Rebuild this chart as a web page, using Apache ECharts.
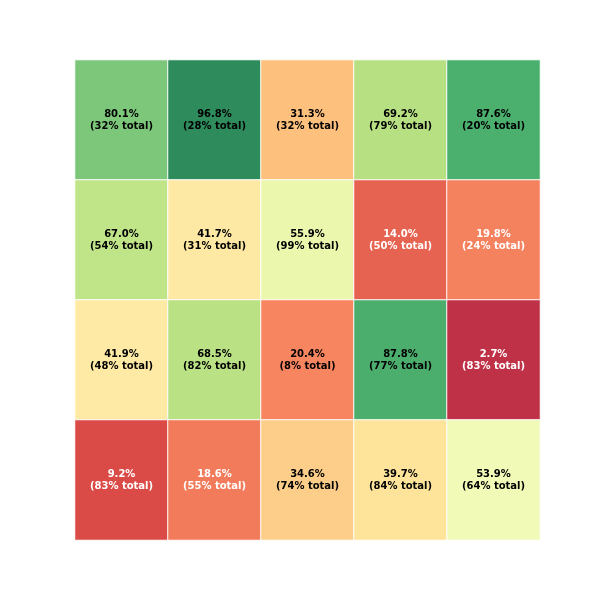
<!DOCTYPE html>
<html><head><meta charset="utf-8">
<script src="https://cdn.jsdelivr.net/npm/echarts@6/dist/echarts.min.js"></script>
<style>html,body{margin:0;padding:0;background:#fff}#c{width:600px;height:600px}</style>
</head><body><div id="c"></div>
<script>
const cols = ['c0','c1','c2','c3','c4'];
const rows = ['r0','r1','r2','r3'];
const pctValues = [
  [80.1, 96.8, 31.3, 69.2, 87.6],
  [67.0, 41.7, 55.9, 14.0, 19.8],
  [41.9, 68.5, 20.4, 87.8, 2.7],
  [9.2, 18.6, 34.6, 39.7, 53.9]
];
const totalShares = [
  [32, 28, 32, 79, 20],
  [54, 31, 99, 50, 24],
  [48, 82, 8, 77, 83],
  [83, 55, 74, 84, 64]
];
const stops = [[165,0,38],[215,48,39],[244,109,67],[253,174,97],[254,224,139],[255,255,191],[217,239,139],[166,217,106],[102,189,99],[26,152,80],[0,104,55]];
function rdylgn(t){
  t = Math.max(0, Math.min(1, t));
  const p = t*10, i = Math.min(9, Math.floor(p)), f = p - i;
  const a = stops[i], b = stops[i+1];
  return a.map((v,k)=>Math.round(v + (b[k]-v)*f));
}
const data = [];
rows.forEach((r, ri) => cols.forEach((c, ci) => {
  const v = pctValues[ri][ci];
  const col = rdylgn(v/100);
  data.push({
    value: [ci, ri, v, totalShares[ri][ci]],
    itemStyle: { color: `rgba(${col[0]},${col[1]},${col[2]},0.85)` },
    label: { color: v < 20 ? '#ffffff' : '#000000' }
  });
}));
const chart = echarts.init(document.getElementById('c'));
chart.setOption({
  animation: false,
  grid: { left: 75, right: 60, top: 60, bottom: 60 },
  xAxis: { type: 'category', data: cols, show: false },
  yAxis: { type: 'category', data: rows, inverse: true, show: false },
  series: [{
    type: 'heatmap',
    data: data,
    itemStyle: { borderColor: '#ffffff', borderWidth: 1 },
    label: {
      show: true,
      fontFamily: 'DejaVu Sans',
      fontWeight: 'bold',
      fontSize: 10,
      lineHeight: 12,
      formatter: p => p.value[2].toFixed(1) + '%\n(' + p.value[3] + '% total)'
    }
  }]
});
</script></body></html>
